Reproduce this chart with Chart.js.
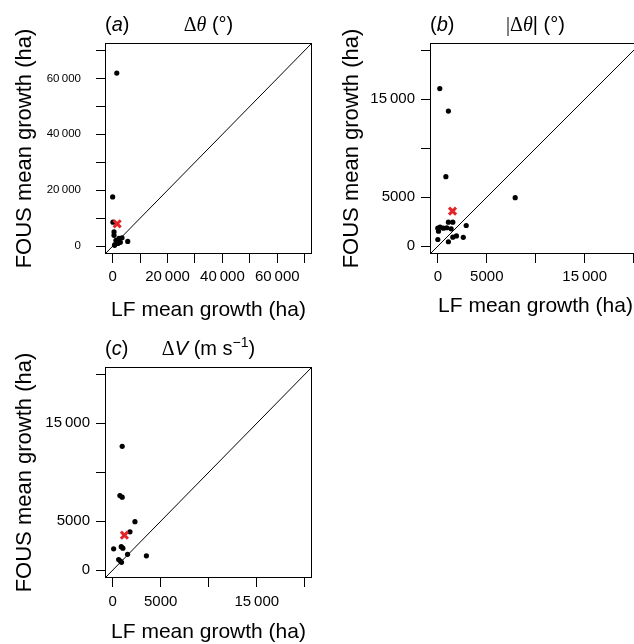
<!DOCTYPE html>
<html>
<head>
<meta charset="utf-8">
<script src="https://cdn.jsdelivr.net/npm/chart.js@4.4.1/dist/chart.umd.min.js"></script>
<style>
  html, body { margin: 0; padding: 0; background: #fff; overflow: hidden; width: 634px; height: 644px; }
  canvas.panel { position: absolute; }
</style>
</head>
<body>
<canvas id="chartA" class="panel" width="320" height="320" style="left:0;top:0"></canvas>
<canvas id="chartB" class="panel" width="330" height="320" style="left:320px;top:0"></canvas>
<canvas id="chartC" class="panel" width="320" height="324" style="left:0;top:320px"></canvas>
<script>
// (a) delta theta
const lfA   = [0, 1500, 100, 500, 500, 2300, 3400, 1200, 2800, 5500, 800, 1900, 700];
const fousA = [17600, 61900, 8600, 5100, 3900, 2800, 3000, 2100, 1400, 1700, 600, 1000, 300];
const meanLfA = [1650];
const meanFousA = [8000];

// (b) |delta theta|
const lfB   = [200, 1080, 820, 7900, 0, 230, 570, 920, 1360, 70, 1080, 1530, 2900, 0, 1080, 1530, 1900, 2600];
const fousB = [16100, 13800, 7100, 4950, 1840, 1940, 1840, 1880, 1770, 1530, 2450, 2450, 2110, 680, 450, 920, 1050, 900];
const meanLfB = [1500];
const meanFousB = [3580];

// (c) delta V
const lfC   = [990, 750, 990, 2320, 1800, 100, 890, 1060, 1550, 3510, 620, 800, 920];
const fousC = [12650, 7620, 7450, 4950, 3920, 2180, 2400, 2250, 1620, 1460, 1080, 930, 800];
const meanLfC = [1220];
const meanFousC = [3570];

// axis limits and ticks
const limA = [-2790, 72650];
const limBC = [-800, 20750];
const tickValsA = [0, 10000, 20000, 30000, 40000, 50000, 60000, 70000];
const tickTextA = ['0', '', '20\u2009000', '', '40\u2009000', '', '60\u2009000', ''];
const tickValsBC = [0, 5000, 10000, 15000, 20000];
const tickTextBC = ['0', '5000', '', '15\u2009000', ''];

const SANS = '"Liberation Sans", Arial, Helvetica, sans-serif';
const SERIF = '"Liberation Serif", "Times New Roman", serif';

Chart.defaults.font.family = SANS;
Chart.defaults.color = '#000';

// draw a run of text pieces with mixed italic / serif / superscript
function drawRich(ctx, parts, x, y, size, align) {
  const fonts = parts.map(p => {
    const s = p.sup ? size * 0.7 : size;
    return (p.it ? 'italic ' : '') + s + 'px ' + (p.serif ? SERIF : SANS);
  });
  const widths = parts.map((p, i) => { ctx.font = fonts[i]; return ctx.measureText(p.t).width; });
  const total = widths.reduce((a, b) => a + b, 0);
  let cx = align === 'center' ? x - total / 2 : x;
  ctx.textAlign = 'left';
  ctx.textBaseline = 'alphabetic';
  parts.forEach((p, i) => {
    ctx.font = fonts[i];
    ctx.fillText(p.t, cx, p.sup ? y - size * 0.4 : y);
    cx += widths[i];
  });
}

const panelText = {
  id: 'panelText',
  afterDraw(chart, args, o) {
    const { ctx, chartArea: a } = chart;
    ctx.save();
    ctx.fillStyle = '#000';
    // frame around the plot region
    ctx.strokeStyle = '#000';
    ctx.lineWidth = 1;
    ctx.strokeRect(Math.round(a.left) + 0.5, Math.round(a.top) + 0.5,
                   Math.round(a.right - a.left) - 1, Math.round(a.bottom - a.top) - 1);
    const mid = (a.left + a.right) / 2;
    drawRich(ctx, o.tag, a.left, a.top - 12, 20, 'left');
    drawRich(ctx, o.title, mid, a.top - 12, 20, 'center');
    ctx.textAlign = 'center';
    ctx.textBaseline = 'alphabetic';
    ctx.font = '21px ' + SANS;
    ctx.fillText('LF mean growth (ha)', mid, a.bottom + o.xTitleGap);
    ctx.font = '22px ' + SANS;
    ctx.translate(a.left - o.yTitleGap, (a.top + a.bottom) / 2);
    ctx.rotate(-Math.PI / 2);
    ctx.fillText('FOUS mean growth (ha)', 0, 0);
    ctx.restore();
  }
};

function makePanel(id, lf, fous, meanLf, meanFous, lim, tickVals, tickText, box, text) {
  const pts = lf.map((v, i) => ({ x: v, y: fous[i] }));
  const mean = meanLf.map((v, i) => ({ x: v, y: meanFous[i] }));
  const axis = (dir, padding, size) => ({
    type: 'linear',
    min: lim[0],
    max: lim[1],
    afterBuildTicks: s => { s.ticks = tickVals.map(v => ({ value: v })); },
    afterFit: s => { if (dir === 'y') s.width = box.left; else s.height = box.below; },
    grid: { drawOnChartArea: false, drawTicks: true, tickLength: 9, color: '#000', lineWidth: 1 },
    border: { display: false },
    ticks: {
      autoSkip: false,
      maxRotation: 0,
      padding: padding,
      font: { size: size },
      color: '#000',
      callback: (v, i) => tickText[i]
    }
  });
  return new Chart(document.getElementById(id), {
    type: 'scatter',
    data: {
      datasets: [
        { data: mean, order: 0, pointStyle: 'crossRot', pointRadius: 5, borderColor: '#e5242a',
          borderWidth: 3, backgroundColor: '#e5242a' },
        { data: pts, order: 1, pointRadius: 2.6, pointBorderWidth: 0, backgroundColor: '#000' },
        { data: [{ x: lim[0], y: lim[0] }, { x: lim[1], y: lim[1] }], order: 2, showLine: true,
          pointRadius: 0, borderColor: '#000', borderWidth: 1 }
      ]
    },
    options: {
      responsive: false,
      animation: false,
      events: [],
      layout: { padding: { top: box.top, right: box.right, left: 0, bottom: 0 } },
      scales: { x: axis('x', box.xPad, 15), y: axis('y', box.yPad, box.ySize) },
      plugins: { legend: { display: false }, tooltip: { enabled: false }, panelText: text }
    },
    plugins: [panelText]
  });
}

makePanel('chartA', lfA, fousA, meanLfA, meanFousA, limA, tickValsA, tickTextA,
  { left: 105, top: 43, right: 4, below: 66, xPad: 5, yPad: 15, ySize: 11.5 },
  { tag: [{ t: '(' }, { t: 'a', it: true }, { t: ')' }],
    title: [{ t: '\u0394', serif: true }, { t: '\u03b8', serif: true, it: true }, { t: ' (\u00b0)' }],
    xTitleGap: 62, yTitleGap: 74 });

makePanel('chartB', lfB, fousB, meanLfB, meanFousB, limBC, tickValsBC, tickTextBC,
  { left: 110, top: 43, right: 9, below: 66, xPad: 5, yPad: 6, ySize: 15 },
  { tag: [{ t: '(' }, { t: 'b', it: true }, { t: ')' }],
    title: [{ t: '|\u0394', serif: true }, { t: '\u03b8', serif: true, it: true }, { t: '| (\u00b0)' }],
    xTitleGap: 58, yTitleGap: 72 });

makePanel('chartC', lfC, fousC, meanLfC, meanFousC, limBC, tickValsBC, tickTextBC,
  { left: 105, top: 47, right: 4, below: 66, xPad: 6, yPad: 6, ySize: 15 },
  { tag: [{ t: '(' }, { t: 'c', it: true }, { t: ')' }],
    title: [{ t: '\u0394', serif: true }, { t: 'V', it: true }, { t: ' (m s' }, { t: '\u22121', sup: true }, { t: ')' }],
    xTitleGap: 60, yTitleGap: 74 });
</script>
</body>
</html>
